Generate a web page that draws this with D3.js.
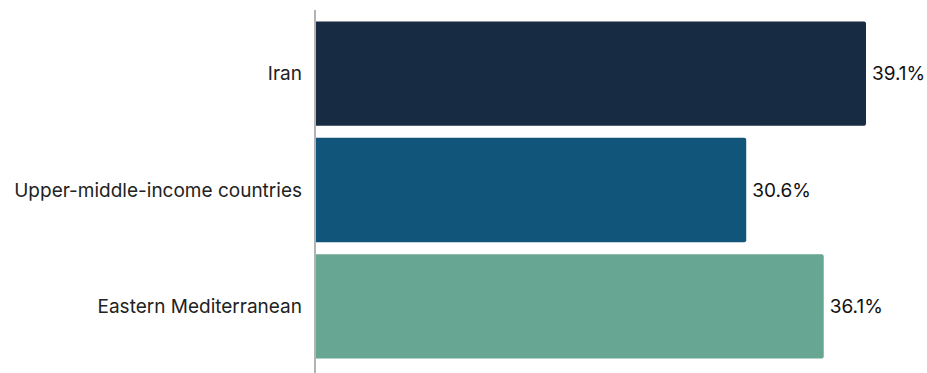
<!DOCTYPE html>
<html>
<head>
<meta charset="utf-8">
<script src="https://cdn.jsdelivr.net/npm/d3@7"></script>
<style>
  body { margin: 0; background: #fff; }
  text { font-family: Inter, "Noto Sans", sans-serif; }
</style>
</head>
<body>
<svg width="927" height="373"></svg>
<script>
var categories = ["Iran", "Upper-middle-income countries", "Eastern Mediterranean"];
var values = [39.1, 30.6, 36.1];
var barColors = ["#172b43", "#12557a", "#67a692"];

const svg = d3.select("svg");
const left = 315;

const x = d3.scaleLinear().domain([0, 39.1]).range([left, 866]);
const y = d3.scaleBand().domain(categories).range([8, 372])
    .paddingInner(0.1034).paddingOuter(0.1165);

const rows = categories.map((c, i) => ({name: c, value: values[i], color: barColors[i]}));

// bars with slightly rounded right end
const r = 2;
svg.append("g").selectAll("path")
    .data(rows)
    .enter().append("path")
    .attr("fill", d => d.color)
    .attr("d", d => {
        const x0 = x(0), x1 = x(d.value), y0 = y(d.name), y1 = y(d.name) + y.bandwidth();
        return "M" + x0 + "," + y0 + "H" + (x1 - r) + "Q" + x1 + "," + y0 + " " + x1 + "," + (y0 + r) +
            "V" + (y1 - r) + "Q" + x1 + "," + y1 + " " + (x1 - r) + "," + y1 + "H" + x0 + "Z";
    });

// axis line
svg.append("line")
    .attr("x1", left).attr("x2", left)
    .attr("y1", 10).attr("y2", 373)
    .attr("stroke", "#b3b3b3").attr("stroke-width", 2);

// category labels
svg.append("g").selectAll("text")
    .data(rows)
    .enter().append("text")
    .attr("x", left - 13)
    .attr("y", d => y(d.name) + y.bandwidth() / 2)
    .attr("dy", "0.35em")
    .attr("text-anchor", "end")
    .attr("font-size", 19)
    .attr("fill", "#222")
    .text(d => d.name);

// value labels
svg.append("g").selectAll("text")
    .data(rows)
    .enter().append("text")
    .attr("x", d => x(d.value) + 6)
    .attr("y", d => y(d.name) + y.bandwidth() / 2)
    .attr("dy", "0.35em")
    .attr("font-size", 19)
    .attr("fill", "#111")
    .text(d => d.value.toFixed(1) + "%");
</script>
</body>
</html>
